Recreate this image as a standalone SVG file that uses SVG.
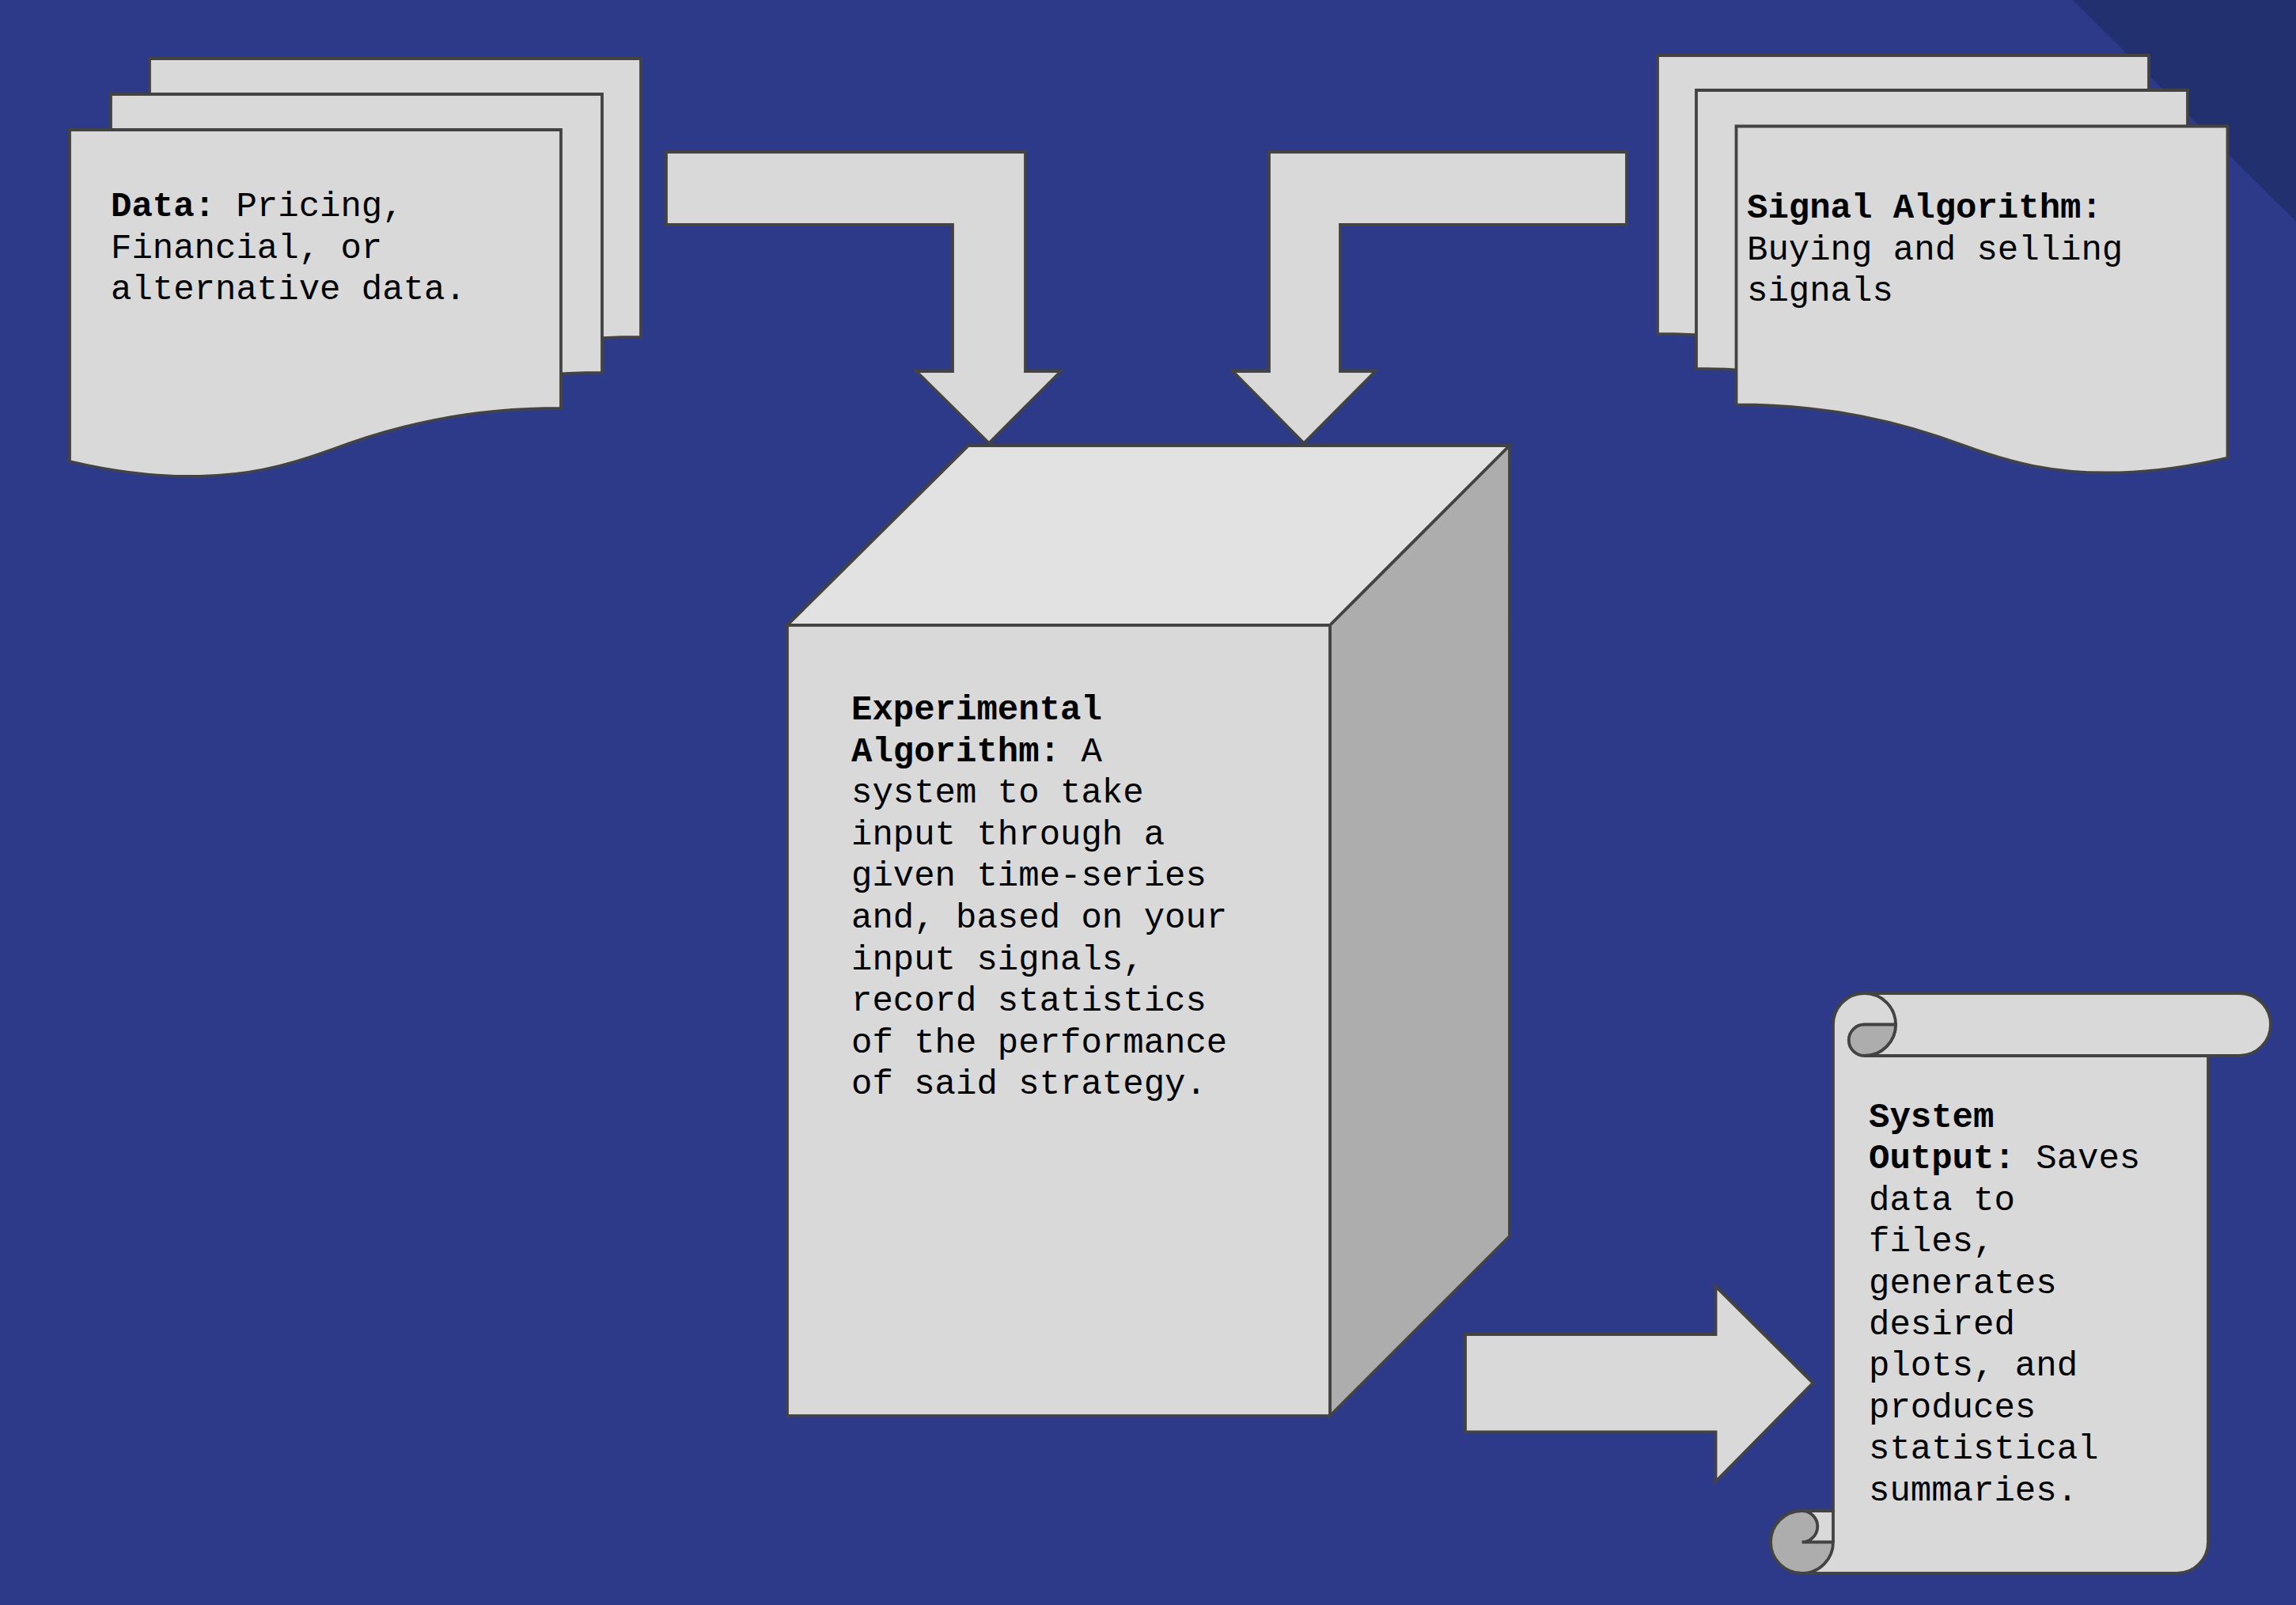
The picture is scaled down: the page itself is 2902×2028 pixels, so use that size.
<svg xmlns="http://www.w3.org/2000/svg" xmlns:xlink="http://www.w3.org/1999/xlink" width="2902" height="2028" viewBox="0 0 2902 2028">
<style>
.shape{fill:#d9d9d9;stroke:#434343;stroke-width:3.8;stroke-linejoin:miter}
.top{fill:#e2e2e2;stroke:#434343;stroke-width:3.8}
.side{fill:#adadad;stroke:#434343;stroke-width:3.8}
.dark{fill:#adadad;stroke:#434343;stroke-width:3.8}
.line{fill:none;stroke:#434343;stroke-width:3.8}
.txt{font-family:"Liberation Mono","Courier New",monospace;font-size:44px;fill:#000}
.b{font-weight:bold}
</style>
<defs>
<path id="doc" d="M0,0 H621 V352 C502,352 412,374 332,404 C272,426 222,438 152,438 C92,438 42,429 0,419 Z"/>
</defs>
<rect x="0" y="0" width="2902" height="2028" fill="#2c3a89"/>
<polygon points="2620,0 2902,0 2902,280" fill="#22306f"/>

<g id="connectors">
<polygon class="shape" points="842,192 1296,192 1296,469 1341,469 1250,560 1158,469 1204,469 1204,284 842,284"/>
<polygon class="shape" points="2056,192 1604,192 1604,469 1558,469 1648,560 1738.5,469 1694,469 1694,284 2056,284"/>
<polygon class="shape" points="1852,1686 2168.5,1686 2168.5,1625.5 2291.5,1747.5 2168.5,1872 2168.5,1809.5 1852,1809.5"/>
</g>

<g id="node-data">
<use xlink:href="#doc" class="shape" transform="translate(189,74)"/>
<use xlink:href="#doc" class="shape" transform="translate(140,119)"/>
<use xlink:href="#doc" class="shape" transform="translate(88,164)"/>
<text class="txt" x="140" y="273"><tspan class="b">Data:</tspan> Pricing,</text>
<text class="txt" x="140" y="325.5">Financial, or</text>
<text class="txt" x="140" y="378">alternative data.</text>
</g>

<g id="node-signal">
<use xlink:href="#doc" class="shape" transform="translate(2716,70) scale(-1,1)"/>
<use xlink:href="#doc" class="shape" transform="translate(2765,114) scale(-1,1)"/>
<use xlink:href="#doc" class="shape" transform="translate(2815.5,159.5) scale(-1,1)"/>
<text class="txt b" x="2208" y="275">Signal Algorithm:</text>
<text class="txt" x="2208" y="327.5">Buying and selling</text>
<text class="txt" x="2208" y="380">signals</text>
</g>

<g id="node-experimental">
<polygon class="top" points="995,790 1224,563 1908,563 1681,790"/>
<polygon class="side" points="1681,790 1908,563 1908,1562 1681,1789"/>
<rect class="shape" x="995" y="790" width="686" height="999"/>
<text class="txt b" x="1076" y="909">Experimental</text>
<text class="txt" x="1076" y="961.6"><tspan class="b">Algorithm:</tspan> A</text>
<text class="txt" x="1076" y="1014.2">system to take</text>
<text class="txt" x="1076" y="1066.8">input through a</text>
<text class="txt" x="1076" y="1119.4">given time-series</text>
<text class="txt" x="1076" y="1172">and, based on your</text>
<text class="txt" x="1076" y="1224.6">input signals,</text>
<text class="txt" x="1076" y="1277.2">record statistics</text>
<text class="txt" x="1076" y="1329.8">of the performance</text>
<text class="txt" x="1076" y="1382.4">of said strategy.</text>
</g>

<g id="node-output">
<path class="shape" d="M2317,1294.5 A39.5,39.5 0 0 1 2356.5,1255 H2830.5 A39.5,39.5 0 0 1 2830.5,1334 H2791 V1948.5 A39.5,39.5 0 0 1 2751.5,1988 H2277.5 A39.5,39.5 0 0 1 2277.5,1909 H2317 Z"/>
<path class="line" d="M2356.5,1255 A39.5,39.5 0 0 1 2356.5,1334 H2791"/>
<path class="dark" d="M2396,1294.5 H2356.5 A19.75,19.75 0 0 0 2356.5,1334 A39.5,39.5 0 0 0 2396,1294.5 Z"/>
<path class="dark" d="M2277.5,1948.5 H2317 A39.5,39.5 0 1 1 2277.5,1909 A19.75,19.75 0 0 1 2277.5,1948.5 Z"/>
<path class="line" d="M2317,1909 V1948.5"/>
<text class="txt b" x="2362" y="1424">System</text>
<text class="txt" x="2362" y="1476.4"><tspan class="b">Output:</tspan> Saves</text>
<text class="txt" x="2362" y="1528.8">data to</text>
<text class="txt" x="2362" y="1581.2">files,</text>
<text class="txt" x="2362" y="1633.6">generates</text>
<text class="txt" x="2362" y="1686">desired</text>
<text class="txt" x="2362" y="1738.4">plots, and</text>
<text class="txt" x="2362" y="1790.8">produces</text>
<text class="txt" x="2362" y="1843.2">statistical</text>
<text class="txt" x="2362" y="1895.6">summaries.</text>
</g>
</svg>
